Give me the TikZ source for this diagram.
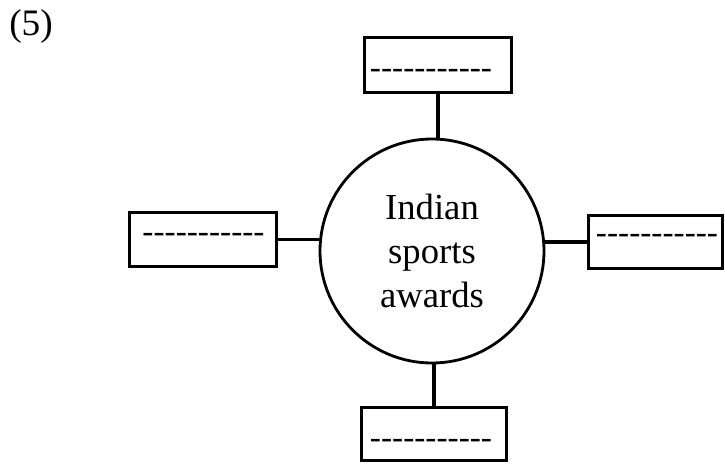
\documentclass[tikz,border=0pt]{standalone}
\usepackage{fontspec}
\setmainfont{Liberation Serif}
\newcommand\hy{-\kern0pt}
\newcommand\dashline{\hy\hy\hy\hy\hy\hy\hy\hy\hy\hy-}
\begin{document}
\begin{tikzpicture}[x=0.75pt,y=-0.75pt,
  blankbox/.style={draw, line width=2.2pt, inner sep=0pt},
  dashtext/.style={inner sep=0pt, font=\fontsize{25}{30}\selectfont},
  conn/.style={line width=2.6pt}]
\useasboundingbox (0,0) rectangle (725,464);
\node[anchor=base west, inner sep=0pt, font=\fontsize{28}{32}\selectfont] (num) at (9,36) {(5)};
\node[draw, circle, line width=2.1pt, inner sep=0pt, minimum size=168pt, align=center,
      font=\fontsize{27.5}{33}\selectfont] (circ) at (432,251) {Indian\\sports\\awards};
\node[blankbox, minimum width=110pt, minimum height=41pt] (topbox) at (438,65) {};
\node[blankbox, minimum width=110pt, minimum height=40.5pt] (leftbox) at (203,239.5) {};
\node[blankbox, minimum width=100.5pt, minimum height=40pt] (rightbox) at (655.5,242) {};
\node[blankbox, minimum width=109pt, minimum height=40pt] (bottombox) at (434,434) {};
\node[dashtext] (toptext) at (431,74) {\dashline};
\node[dashtext] (lefttext) at (203.5,238) {\dashline};
\node[dashtext] (righttext) at (657,239) {\dashline};
\node[dashtext] (bottomtext) at (431,444) {\dashline};
\draw[conn] (topbox.south) -- (topbox.south |- circ.north);
\draw[conn] (bottombox.north) -- (bottombox.north |- circ.south);
\draw[conn] (leftbox.east) -- (leftbox.east -| circ.west);
\draw[conn] (rightbox.west) -- (rightbox.west -| circ.east);
\end{tikzpicture}
\end{document}
